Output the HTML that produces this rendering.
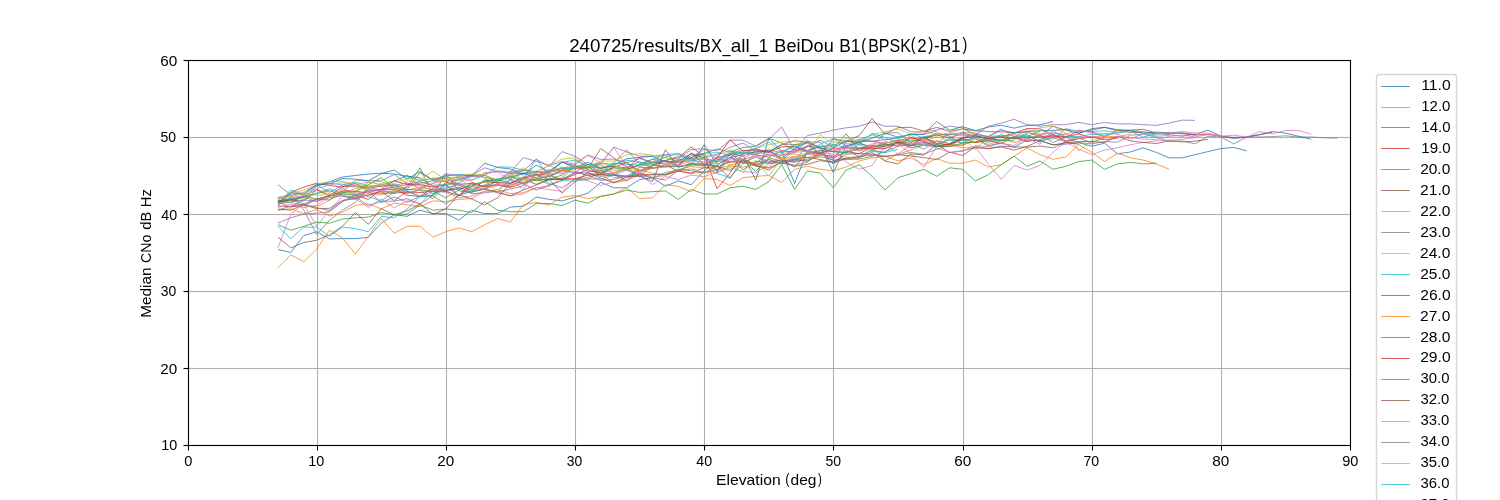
<!DOCTYPE html>
<html lang="en">
<head>
<meta charset="utf-8">
<title>240725/results/BX_all_1 BeiDou B1(BPSK(2)-B1)</title>
<style>
html,body{margin:0;padding:0;background:#fff;}
body{width:1500px;height:500px;overflow:hidden;}
svg{display:block;will-change:transform;}
text{font-family:"Liberation Sans",sans-serif;fill:#000;text-anchor:middle;}
.g line{stroke:#b0b0b0;stroke-width:1.111;}
.s line{stroke:#000;stroke-width:1.111;}
.d polyline{fill:none;stroke-width:0.78;stroke-linejoin:round;stroke-linecap:butt;}
.h line{stroke-width:0.78;}
</style>
</head>
<body>
<svg width="1500" height="500" viewBox="0 0 1500 500">
<rect x="0" y="0" width="1500" height="500" fill="#ffffff"/>
<g class="g">
<line x1="317.5" y1="60.5" x2="317.5" y2="445.5"/>
<line x1="446.5" y1="60.5" x2="446.5" y2="445.5"/>
<line x1="575.5" y1="60.5" x2="575.5" y2="445.5"/>
<line x1="704.5" y1="60.5" x2="704.5" y2="445.5"/>
<line x1="833.5" y1="60.5" x2="833.5" y2="445.5"/>
<line x1="963.5" y1="60.5" x2="963.5" y2="445.5"/>
<line x1="1092.5" y1="60.5" x2="1092.5" y2="445.5"/>
<line x1="1221.5" y1="60.5" x2="1221.5" y2="445.5"/>
<line x1="188.5" y1="137.5" x2="1350.5" y2="137.5"/>
<line x1="188.5" y1="214.5" x2="1350.5" y2="214.5"/>
<line x1="188.5" y1="291.5" x2="1350.5" y2="291.5"/>
<line x1="188.5" y1="368.5" x2="1350.5" y2="368.5"/>
</g>
<g fill="#b0b0b0" fill-opacity="0.063">
<rect x="188" y="136" width="1162" height="1"/><rect x="188" y="138" width="1162" height="1"/>
<rect x="188" y="213" width="1162" height="1"/><rect x="188" y="215" width="1162" height="1"/>
<rect x="188" y="290" width="1162" height="1"/><rect x="188" y="292" width="1162" height="1"/>
<rect x="188" y="367" width="1162" height="1"/><rect x="188" y="369" width="1162" height="1"/>
</g>
<g class="d">
<polyline stroke="#1f77b4" points="277.9,249.4 290.8,252.5 303.8,235.6 316.7,231.7 329.6,238.9 342.5,238.6 355.4,238.6 368.3,237.4 381.2,223.2 394.2,214.8 407.1,216.3 420.0,210.2 432.9,213.6 445.8,213.6 458.8,220.2 471.7,210.2 484.6,213.6 497.5,213.6 510.4,207.1 523.3,206.3 536.2,197.1 549.2,199.4 562.1,200.9 575.0,197.1 587.9,193.2 600.8,182.4 613.8,187.8 626.7,187.8 639.6,179.4 652.5,177.8 665.4,186.3 678.3,180.9 691.2,184.7 704.2,170.9 717.1,157.2 730.0,155.2 742.9,169.9 755.8,161.4 768.8,162.4 781.7,159.9 794.6,166.9 807.5,153.4 820.4,153.1 833.3,160.7 846.2,158.2 859.2,156.4 872.1,150.4 885.0,152.6 897.9,141.0 910.8,145.3 923.8,142.3 936.7,144.9 949.6,138.8 962.5,140.2 975.4,138.6 988.3,145.9 1001.2,142.7 1014.2,147.3 1027.1,139.8 1040.0,140.7 1052.9,144.6 1065.8,144.1 1078.8,142.7 1091.7,146.2 1104.6,143.2 1117.5,153.9 1130.4,152.0 1143.3,147.8 1156.2,152.4 1169.2,157.8 1182.1,157.8 1195.0,154.7 1207.9,151.6 1220.8,148.6 1233.8,147.4 1246.7,150.9"/>
<polyline stroke="#ff7f0e" points="277.9,267.9 290.8,254.8 303.8,261.7 316.7,249.0 329.6,230.2 342.5,237.9 355.4,254.0 368.3,236.3 381.2,218.6 394.2,233.2 407.1,226.3 420.0,226.3 432.9,237.1 445.8,231.7 458.8,227.9 471.7,231.7 484.6,224.8 497.5,218.6 510.4,222.0 523.3,204.8 536.2,202.4 549.2,204.8 562.1,197.1 575.0,195.5 587.9,198.6 600.8,196.3 613.8,194.0 626.7,187.8 639.6,198.6 652.5,197.8 665.4,184.7 678.3,186.3 691.2,191.7 704.2,178.6 717.1,179.4 730.0,185.5 742.9,177.8 755.8,176.3 768.8,175.5 781.7,182.4 794.6,169.3 807.5,166.3 820.4,169.3 833.3,170.9 846.2,167.0 859.2,160.9 872.1,157.8 885.0,156.2 897.9,160.9 910.8,157.8 923.8,164.7 936.7,158.6 949.6,163.2 962.5,163.2 975.4,160.1 988.3,167.0 1001.2,164.7 1014.2,156.2 1027.1,147.8 1040.0,154.7 1052.9,159.3 1065.8,157.0 1078.8,144.7 1091.7,152.4 1104.6,161.6 1117.5,153.2 1130.4,157.8 1143.3,160.1 1156.2,163.9 1169.2,169.3"/>
<polyline stroke="#2ca02c" points="277.9,199.7 290.8,202.5 303.8,196.4 316.7,193.6 329.6,190.5 342.5,195.8 355.4,197.3 368.3,189.5 381.2,191.0 394.2,192.6 407.1,187.1 420.0,167.8 432.9,194.8 445.8,174.0 458.8,190.9 471.7,192.4 484.6,179.4 497.5,182.5 510.4,175.6 523.3,183.3 536.2,179.8 549.2,179.2 562.1,178.2 575.0,165.9 587.9,171.8 600.8,170.9 613.8,167.9 626.7,169.7 639.6,164.7 652.5,162.4 665.4,164.0 678.3,159.9 691.2,157.9 704.2,153.4 717.1,148.9 730.0,152.2 742.9,147.5 755.8,146.1 768.8,138.1 781.7,143.0 794.6,150.7 807.5,146.9 820.4,140.1 833.3,147.5 846.2,133.8 859.2,150.5 872.1,145.6 885.0,146.3 897.9,141.2 910.8,140.9 923.8,140.3 936.7,132.9 949.6,136.2 962.5,144.3 975.4,135.7 988.3,139.2 1001.2,140.3 1014.2,136.7 1027.1,136.8 1040.0,131.1"/>
<polyline stroke="#d62728" points="277.9,205.9 290.8,192.4 303.8,187.1 316.7,183.2 329.6,185.5 342.5,187.1 355.4,183.2 368.3,192.0 381.2,189.3 394.2,189.3 407.1,195.2 420.0,196.5 432.9,195.7 445.8,182.2 458.8,185.2 471.7,190.5 484.6,185.2 497.5,185.0 510.4,187.6 523.3,182.9 536.2,179.0 549.2,175.9 562.1,169.9 575.0,168.5 587.9,167.3 600.8,167.3 613.8,166.5 626.7,167.9 639.6,157.7 652.5,163.3 665.4,160.4 678.3,157.8 691.2,147.0 704.2,156.2 717.1,188.6 730.0,173.2 742.9,153.3 755.8,154.7 768.8,157.3 781.7,150.7 794.6,152.2 807.5,145.8 820.4,148.3 833.3,151.4 846.2,146.0 859.2,141.6 872.1,141.1 885.0,143.5 897.9,140.1 910.8,138.9 923.8,138.4 936.7,135.1 949.6,137.8 962.5,133.4 975.4,135.9 988.3,138.7 1001.2,136.8 1014.2,133.2 1027.1,128.5 1040.0,128.8 1052.9,134.9 1065.8,136.8 1078.8,131.0 1091.7,131.9 1104.6,136.8 1117.5,130.3 1130.4,132.5 1143.3,131.7 1156.2,134.0 1169.2,133.1 1182.1,133.6 1195.0,135.2 1207.9,134.3 1220.8,136.2 1233.8,137.4 1246.7,137.0 1259.6,134.7 1272.5,132.0"/>
<polyline stroke="#9467bd" points="277.9,223.2 290.8,217.8 303.8,214.0 316.7,213.2 329.6,211.7 342.5,201.7 355.4,194.8 368.3,190.9 381.2,189.4 394.2,187.1 407.1,184.7 420.0,183.2 432.9,180.9 445.8,181.7 458.8,178.6 471.7,175.5 484.6,167.8 497.5,171.6 510.4,173.2 523.3,170.9 536.2,159.3 549.2,166.3 562.1,151.6 575.0,156.2 587.9,164.7 600.8,163.9 613.8,147.0 626.7,152.0 639.6,156.2 652.5,156.2 665.4,154.7 678.3,153.6 691.2,157.8 704.2,149.3 717.1,150.9 730.0,140.1 742.9,140.1 755.8,146.2 768.8,139.3 781.7,127.0 794.6,150.1 807.5,135.5 820.4,133.1 833.3,130.1 846.2,127.8 859.2,126.2 872.1,122.0 885.0,126.2 897.9,126.2 910.8,131.6 923.8,132.0 936.7,130.1 949.6,126.2 962.5,127.8 975.4,134.7 988.3,126.2 1001.2,123.1 1014.2,119.3 1027.1,124.7 1040.0,126.2 1052.9,124.7 1065.8,124.7 1078.8,122.4 1091.7,124.7 1104.6,122.4 1117.5,123.9 1130.4,123.9 1143.3,124.7 1156.2,125.4 1169.2,123.1 1182.1,120.1 1195.0,120.4"/>
<polyline stroke="#8c564b" points="277.9,200.6 290.8,200.2 303.8,195.7 316.7,199.2 329.6,195.5 342.5,186.6 355.4,186.8 368.3,187.8 381.2,186.4 394.2,184.5 407.1,189.5 420.0,172.5 432.9,179.9 445.8,178.3 458.8,184.3 471.7,183.4 484.6,186.6 497.5,181.3 510.4,173.3 523.3,173.1 536.2,178.2 549.2,176.7 562.1,170.8 575.0,172.5 587.9,164.1 600.8,172.9 613.8,174.1 626.7,180.9 639.6,167.0 652.5,168.5 665.4,164.4 678.3,171.5 691.2,164.2 704.2,163.6 717.1,160.1 730.0,153.4 742.9,150.4 755.8,150.3 768.8,151.3 781.7,145.0 794.6,140.6 807.5,142.4 820.4,154.4 833.3,138.6 846.2,141.5 859.2,135.5 872.1,118.5 885.0,134.4 897.9,127.6 910.8,127.3 923.8,131.1 936.7,127.4 949.6,131.4 962.5,128.9 975.4,130.7 988.3,131.6 1001.2,131.9 1014.2,132.6 1027.1,132.1 1040.0,136.1 1052.9,126.2 1065.8,130.2 1078.8,133.0 1091.7,130.1 1104.6,127.4 1117.5,130.8 1130.4,130.1 1143.3,129.3 1156.2,133.1 1169.2,134.7 1182.1,136.2 1195.0,133.9"/>
<polyline stroke="#e377c2" points="277.9,247.9 290.8,214.0 303.8,204.0 316.7,226.3 329.6,210.2 342.5,196.3 355.4,198.6 368.3,207.5 381.2,199.0 394.2,207.9 407.1,200.7 420.0,203.7 432.9,191.3 445.8,192.2 458.8,197.8 471.7,196.0 484.6,191.0 497.5,191.6 510.4,195.8 523.3,194.0 536.2,187.3 549.2,189.6 562.1,191.4 575.0,178.3 587.9,180.8 600.8,185.5 613.8,181.9 626.7,180.7 639.6,174.9 652.5,184.5 665.4,176.6 678.3,179.6 691.2,175.1 704.2,176.8 717.1,172.6 730.0,167.7 742.9,171.4 755.8,172.9 768.8,163.9 781.7,161.8 794.6,157.4 807.5,154.4 820.4,155.6 833.3,147.9 846.2,162.0 859.2,169.3 872.1,165.5 885.0,146.2 897.9,143.2 910.8,153.9 923.8,167.4 936.7,146.2 949.6,144.7 962.5,147.8 975.4,147.0 988.3,163.9 1001.2,179.4 1014.2,165.5 1027.1,170.1 1040.0,165.5 1052.9,152.4 1065.8,142.0 1078.8,149.3 1091.7,154.7 1104.6,150.1 1117.5,147.8 1130.4,144.7 1143.3,142.4 1156.2,140.9 1169.2,140.1 1182.1,139.3 1195.0,137.8"/>
<polyline stroke="#7f7f7f" points="277.9,184.7 290.8,194.8 303.8,210.2 316.7,234.4 329.6,220.2 342.5,210.2 355.4,202.4 368.3,188.0 381.2,185.0 394.2,185.7 407.1,193.0 420.0,190.2 432.9,198.8 445.8,185.1 458.8,182.9 471.7,175.0 484.6,177.2 497.5,180.5 510.4,176.6 523.3,173.0 536.2,172.0 549.2,173.4 562.1,162.0 575.0,166.2 587.9,167.2 600.8,164.8 613.8,173.4 626.7,168.4 639.6,161.6 652.5,168.3 665.4,166.6 678.3,158.9 691.2,149.6 704.2,148.7 717.1,159.2 730.0,161.3 742.9,160.6 755.8,163.1 768.8,154.1 781.7,159.6 794.6,162.3 807.5,159.0 820.4,156.7 833.3,159.9 846.2,159.7 859.2,159.0 872.1,156.4 885.0,151.5 897.9,146.5 910.8,144.0 923.8,149.1 936.7,140.8 949.6,143.6 962.5,137.5 975.4,137.3 988.3,142.0 1001.2,139.7 1014.2,138.2 1027.1,141.4 1040.0,134.9 1052.9,142.5 1065.8,137.1 1078.8,142.6 1091.7,143.9 1104.6,141.5 1117.5,142.3 1130.4,135.2 1143.3,134.2 1156.2,137.3 1169.2,141.6 1182.1,140.9 1195.0,143.9 1207.9,136.2 1220.8,137.0 1233.8,143.9 1246.7,137.0 1259.6,137.0 1272.5,136.6 1285.4,135.8 1298.3,137.0 1311.2,137.0 1324.2,137.8 1337.1,138.2"/>
<polyline stroke="#bcbd22" points="277.9,201.7 290.8,200.0 303.8,197.7 316.7,189.4 329.6,193.9 342.5,193.1 355.4,188.6 368.3,188.5 381.2,183.3 394.2,181.5 407.1,175.0 420.0,186.7 432.9,179.5 445.8,181.7 458.8,176.4 471.7,174.6 484.6,177.8 497.5,180.1 510.4,178.5 523.3,178.0 536.2,171.2 549.2,165.5 562.1,171.2 575.0,159.6 587.9,166.8 600.8,168.5 613.8,164.1 626.7,162.3 639.6,173.2 652.5,161.3 665.4,157.3 678.3,163.2 691.2,159.4 704.2,158.6 717.1,161.3 730.0,162.2 742.9,160.4 755.8,154.4 768.8,149.2 781.7,153.3 794.6,145.3 807.5,140.2 820.4,150.8 833.3,141.6 846.2,143.7 859.2,142.2 872.1,149.9 885.0,141.5 897.9,144.2 910.8,135.5 923.8,141.5 936.7,136.6 949.6,140.7 962.5,138.2 975.4,149.4 988.3,136.6 1001.2,135.2 1014.2,138.1 1027.1,133.0 1040.0,127.8 1052.9,126.2 1065.8,133.1 1078.8,150.9 1091.7,140.9 1104.6,137.0 1117.5,130.1 1130.4,130.1 1143.3,131.6"/>
<polyline stroke="#17becf" points="277.9,204.9 290.8,189.9 303.8,194.5 316.7,184.7 329.6,183.1 342.5,185.0 355.4,182.3 368.3,185.8 381.2,185.2 394.2,181.1 407.1,175.5 420.0,180.7 432.9,178.2 445.8,177.3 458.8,177.5 471.7,179.8 484.6,175.2 497.5,166.8 510.4,167.2 523.3,170.0 536.2,173.0 549.2,170.9 562.1,162.5 575.0,159.9 587.9,166.9 600.8,172.7 613.8,163.3 626.7,164.3 639.6,165.0 652.5,159.0 665.4,154.9 678.3,162.0 691.2,160.2 704.2,153.3 717.1,152.6 730.0,155.3 742.9,153.4 755.8,153.8 768.8,152.1 781.7,152.0 794.6,144.5 807.5,152.8 820.4,144.1 833.3,138.6 846.2,145.8 859.2,144.5 872.1,133.2 885.0,137.6 897.9,143.2 910.8,142.1 923.8,136.6 936.7,135.1 949.6,134.7 962.5,135.2 975.4,135.7 988.3,139.6 1001.2,140.6 1014.2,137.4 1027.1,136.8 1040.0,137.0 1052.9,139.2 1065.8,128.7 1078.8,131.1 1091.7,131.6 1104.6,130.8 1117.5,132.4 1130.4,130.1 1143.3,133.1 1156.2,136.2 1169.2,135.5"/>
<polyline stroke="#1f77b4" points="277.9,201.2 290.8,198.3 303.8,197.6 316.7,186.3 329.6,181.7 342.5,177.0 355.4,175.5 368.3,174.0 381.2,173.2 394.2,174.0 407.1,176.3 420.0,177.8 432.9,186.2 445.8,190.3 458.8,188.8 471.7,185.8 484.6,181.0 497.5,178.9 510.4,177.8 523.3,173.6 536.2,174.2 549.2,179.8 562.1,179.1 575.0,172.9 587.9,173.0 600.8,176.3 613.8,174.5 626.7,176.1 639.6,170.4 652.5,166.0 665.4,160.8 678.3,166.8 691.2,164.8 704.2,144.7 717.1,164.6 730.0,157.5 742.9,154.6 755.8,180.1 768.8,138.4 781.7,150.9 794.6,183.6 807.5,150.3 820.4,146.3 833.3,172.4 846.2,146.3 859.2,142.5 872.1,149.5 885.0,145.8 897.9,142.4 910.8,145.5 923.8,144.1 936.7,146.1 949.6,143.7 962.5,137.7 975.4,134.4 988.3,136.7 1001.2,130.0 1014.2,133.0 1027.1,131.6 1040.0,130.8 1052.9,130.5 1065.8,129.3 1078.8,133.3 1091.7,128.7 1104.6,127.2 1117.5,129.7 1130.4,130.7 1143.3,133.3 1156.2,132.0 1169.2,132.9 1182.1,132.7 1195.0,134.7 1207.9,130.1 1220.8,136.2 1233.8,138.5 1246.7,137.0 1259.6,134.7 1272.5,131.6 1285.4,133.1 1298.3,136.2 1311.2,139.3"/>
<polyline stroke="#ff7f0e" points="277.9,210.2 290.8,208.8 303.8,213.6 316.7,209.7 329.6,216.0 342.5,212.1 355.4,205.5 368.3,203.6 381.2,208.9 394.2,203.0 407.1,204.8 420.0,206.5 432.9,200.9 445.8,201.5 458.8,199.4 471.7,198.5 484.6,191.4 497.5,189.6 510.4,193.6 523.3,192.7 536.2,187.9 549.2,186.3 562.1,177.5 575.0,179.5 587.9,177.3 600.8,173.9 613.8,182.9 626.7,179.6 639.6,173.0 652.5,177.2 665.4,175.6 678.3,170.9 691.2,173.6 704.2,171.6 717.1,172.5 730.0,166.1 742.9,167.1 755.8,164.5 768.8,167.5 781.7,155.2 794.6,153.8 807.5,158.0 820.4,152.4 833.3,164.0 846.2,156.7 859.2,159.2 872.1,146.1 885.0,160.8 897.9,154.1 910.8,150.2 923.8,143.7 936.7,141.1 949.6,143.8 962.5,145.9 975.4,138.6 988.3,144.4 1001.2,140.8"/>
<polyline stroke="#2ca02c" points="277.9,224.8 290.8,230.2 303.8,226.3 316.7,222.0 329.6,223.2 342.5,219.0 355.4,217.8 368.3,217.1 381.2,212.5 394.2,214.8 407.1,214.0 420.0,204.8 432.9,210.2 445.8,209.0 458.8,210.2 471.7,212.5 484.6,201.7 497.5,210.2 510.4,211.7 523.3,211.7 536.2,203.6 549.2,203.6 562.1,205.5 575.0,200.1 587.9,203.2 600.8,196.3 613.8,194.0 626.7,190.1 639.6,192.4 652.5,191.7 665.4,190.9 678.3,199.4 691.2,189.4 704.2,194.0 717.1,194.0 730.0,187.8 742.9,186.3 755.8,189.4 768.8,181.7 781.7,164.7 794.6,189.4 807.5,170.9 820.4,173.2 833.3,187.8 846.2,170.1 859.2,164.7 872.1,176.3 885.0,190.1 897.9,177.8 910.8,173.6 923.8,169.3 936.7,176.3 949.6,167.8 962.5,169.3 975.4,180.9 988.3,174.7 1001.2,164.7 1014.2,156.2 1027.1,166.3 1040.0,160.9 1052.9,169.3 1065.8,166.3 1078.8,161.6 1091.7,160.1 1104.6,169.3 1117.5,163.9 1130.4,162.4 1143.3,163.9 1156.2,163.2"/>
<polyline stroke="#d62728" points="277.9,205.8 290.8,206.9 303.8,205.5 316.7,199.3 329.6,196.2 342.5,194.0 355.4,195.3 368.3,199.4 381.2,189.3 394.2,180.6 407.1,184.6 420.0,184.6 432.9,187.1 445.8,185.0 458.8,196.1 471.7,182.2 484.6,187.1 497.5,184.8 510.4,186.4 523.3,179.2 536.2,184.4 549.2,179.3 562.1,179.5 575.0,178.8 587.9,175.1 600.8,174.4 613.8,175.4 626.7,177.0 639.6,174.3 652.5,174.8 665.4,174.7 678.3,170.9 691.2,173.2 704.2,167.5 717.1,166.9 730.0,161.9 742.9,162.1 755.8,165.5 768.8,159.4 781.7,164.0 794.6,159.8 807.5,161.1 820.4,153.8 833.3,158.4 846.2,151.3 859.2,153.8 872.1,146.5 885.0,144.3 897.9,146.0 910.8,137.4 923.8,141.6 936.7,146.8 949.6,144.3 962.5,138.9 975.4,142.7 988.3,140.4 1001.2,143.5 1014.2,136.8 1027.1,141.4 1040.0,139.8 1052.9,134.5 1065.8,141.2 1078.8,138.6 1091.7,136.9 1104.6,139.8 1117.5,138.1"/>
<polyline stroke="#9467bd" points="277.9,197.4 290.8,195.4 303.8,192.6 316.7,184.6 329.6,192.4 342.5,185.0 355.4,185.6 368.3,187.4 381.2,190.2 394.2,185.3 407.1,182.8 420.0,188.4 432.9,183.4 445.8,173.6 458.8,175.8 471.7,176.2 484.6,174.0 497.5,170.9 510.4,172.3 523.3,157.6 536.2,161.3 549.2,165.4 562.1,161.7 575.0,164.5 587.9,155.1 600.8,159.5 613.8,159.1 626.7,162.4 639.6,158.6 652.5,162.1 665.4,161.7 678.3,162.7 691.2,158.5 704.2,157.6 717.1,154.3 730.0,147.4 742.9,143.0 755.8,151.0 768.8,150.6 781.7,159.7 794.6,151.1 807.5,141.8 820.4,142.4 833.3,158.9 846.2,141.8 859.2,139.6 872.1,141.1 885.0,139.8 897.9,137.8 910.8,134.4 923.8,134.5 936.7,130.9"/>
<polyline stroke="#8c564b" points="277.9,237.1 290.8,247.9 303.8,242.5 316.7,240.2 329.6,234.8 342.5,226.3 355.4,212.5 368.3,224.4 381.2,208.6 394.2,214.8 407.1,210.9 420.0,204.0 432.9,214.4 445.8,209.0 458.8,194.8 471.7,199.0 484.6,204.8 497.5,197.8 510.4,183.3 523.3,178.3 536.2,175.4 549.2,171.4 562.1,168.5 575.0,167.3 587.9,168.6 600.8,148.5 613.8,157.8 626.7,167.4 639.6,176.9 652.5,164.9 665.4,160.7 678.3,165.9 691.2,155.3 704.2,153.9 717.1,171.6 730.0,158.8 742.9,159.1 755.8,165.3 768.8,170.2 781.7,161.1 794.6,159.4 807.5,157.3 820.4,159.6 833.3,162.3 846.2,154.1 859.2,153.5 872.1,154.3 885.0,156.7 897.9,154.6 910.8,156.0 923.8,157.6 936.7,159.6 949.6,152.1 962.5,155.5 975.4,146.7 988.3,148.7 1001.2,146.2 1014.2,147.0 1027.1,147.1 1040.0,146.0 1052.9,147.9 1065.8,142.0 1078.8,144.3"/>
<polyline stroke="#e377c2" points="277.9,198.2 290.8,197.4 303.8,195.7 316.7,188.7 329.6,184.9 342.5,182.7 355.4,184.5 368.3,182.2 381.2,184.6 394.2,189.5 407.1,193.6 420.0,189.6 432.9,183.3 445.8,180.7 458.8,180.1 471.7,180.5 484.6,172.6 497.5,172.2 510.4,179.7 523.3,189.7 536.2,171.3 549.2,173.6 562.1,172.9 575.0,162.7 587.9,155.4 600.8,162.9 613.8,147.7 626.7,166.4 639.6,166.8 652.5,162.2 665.4,161.1 678.3,165.0 691.2,160.9 704.2,162.0 717.1,156.9 730.0,162.0 742.9,159.3 755.8,150.5 768.8,155.2 781.7,154.1 794.6,150.6 807.5,150.5 820.4,152.5 833.3,153.9 846.2,144.6 859.2,148.9 872.1,143.9 885.0,143.7 897.9,153.8 910.8,145.2 923.8,140.5 936.7,143.7 949.6,133.6 962.5,134.9 975.4,135.8 988.3,136.2 1001.2,128.8 1014.2,137.0 1027.1,129.6 1040.0,134.4 1052.9,136.2 1065.8,134.1 1078.8,129.9 1091.7,133.3 1104.6,133.4 1117.5,134.2 1130.4,139.2 1143.3,133.2 1156.2,133.9 1169.2,132.7 1182.1,131.7 1195.0,132.9 1207.9,133.2 1220.8,136.2 1233.8,135.1 1246.7,137.0 1259.6,131.6 1272.5,133.9 1285.4,130.5 1298.3,130.5 1311.2,133.9"/>
<polyline stroke="#7f7f7f" points="277.9,197.4 290.8,201.1 303.8,196.5 316.7,201.6 329.6,195.2 342.5,192.1 355.4,179.9 368.3,180.8 381.2,180.7 394.2,174.5 407.1,183.9 420.0,182.0 432.9,185.3 445.8,184.4 458.8,179.7 471.7,176.7 484.6,175.4 497.5,180.3 510.4,171.4 523.3,170.1 536.2,171.5 549.2,172.6 562.1,167.1 575.0,169.1 587.9,164.4 600.8,168.9 613.8,162.9 626.7,149.8 639.6,163.9 652.5,159.3 665.4,161.2 678.3,155.9 691.2,158.6 704.2,165.1 717.1,162.3 730.0,153.4 742.9,156.4 755.8,151.0 768.8,152.1 781.7,144.1 794.6,144.7 807.5,143.5 820.4,146.7 833.3,145.6 846.2,140.9 859.2,144.0 872.1,146.1 885.0,133.1 897.9,132.7 910.8,142.6 923.8,137.4 936.7,134.5 949.6,134.5 962.5,132.5 975.4,133.0 988.3,137.2 1001.2,136.2 1014.2,134.9 1027.1,135.3 1040.0,141.8 1052.9,137.4 1065.8,142.0 1078.8,138.2 1091.7,142.8 1104.6,137.9"/>
<polyline stroke="#bcbd22" points="277.9,198.3 290.8,193.5 303.8,190.3 316.7,184.0 329.6,181.5 342.5,181.6 355.4,183.8 368.3,186.8 381.2,185.2 394.2,183.6 407.1,178.2 420.0,179.7 432.9,171.2 445.8,179.8 458.8,176.1 471.7,174.0 484.6,174.6 497.5,181.0 510.4,175.6 523.3,167.8 536.2,174.1 549.2,164.6 562.1,159.2 575.0,157.7 587.9,167.1 600.8,161.0 613.8,161.0 626.7,154.9 639.6,153.6 652.5,155.2 665.4,157.7 678.3,160.9 691.2,159.9 704.2,155.0 717.1,155.5 730.0,150.0 742.9,155.1 755.8,148.5 768.8,144.7 781.7,142.2 794.6,140.9 807.5,152.5 820.4,134.3 833.3,145.7 846.2,138.4 859.2,141.2 872.1,134.6 885.0,131.7 897.9,128.7 910.8,134.1 923.8,131.2 936.7,134.9 949.6,133.0 962.5,129.0 975.4,134.5"/>
<polyline stroke="#17becf" points="277.9,226.3 290.8,238.6 303.8,227.1 316.7,227.1 329.6,236.3 342.5,227.1 355.4,228.6 368.3,231.7 381.2,216.3 394.2,217.8 407.1,209.0 420.0,196.3 432.9,195.5 445.8,184.1 458.8,195.2 471.7,190.6 484.6,189.3 497.5,183.5 510.4,180.5 523.3,184.3 536.2,178.3 549.2,184.8 562.1,180.7 575.0,181.1 587.9,179.4 600.8,170.5 613.8,177.6 626.7,176.6 639.6,172.8 652.5,178.9 665.4,172.4 678.3,170.3 691.2,164.9 704.2,166.1 717.1,173.4 730.0,177.6 742.9,163.5 755.8,163.2 768.8,163.7 781.7,162.6 794.6,158.2 807.5,161.1 820.4,150.9 833.3,151.7 846.2,152.7 859.2,144.4 872.1,151.4 885.0,152.6 897.9,149.3"/>
<polyline stroke="#1f77b4" points="277.9,202.4 290.8,192.9 303.8,194.3 316.7,185.0 329.6,183.8 342.5,178.5 355.4,179.2 368.3,180.9 381.2,173.7 394.2,170.0 407.1,179.1 420.0,171.5 432.9,180.2 445.8,175.9 458.8,174.5 471.7,175.7 484.6,163.3 497.5,167.5 510.4,168.9 523.3,174.9 536.2,165.2 549.2,171.5 562.1,162.0 575.0,167.9 587.9,162.3 600.8,168.5 613.8,165.6 626.7,158.7 639.6,157.4 652.5,156.3 665.4,161.8 678.3,161.2 691.2,153.6 704.2,157.9 717.1,171.1 730.0,154.2 742.9,152.2 755.8,152.4 768.8,150.7 781.7,158.1 794.6,148.5 807.5,141.3 820.4,148.3 833.3,148.0 846.2,141.0 859.2,142.2 872.1,138.2 885.0,133.2 897.9,137.0 910.8,134.5 923.8,134.1 936.7,121.5 949.6,130.3 962.5,126.6 975.4,130.7 988.3,127.0 1001.2,125.3 1014.2,128.1 1027.1,125.4 1040.0,124.8 1052.9,121.6"/>
<polyline stroke="#ff7f0e" points="277.9,202.7 290.8,202.5 303.8,205.3 316.7,206.9 329.6,200.0 342.5,189.7 355.4,194.2 368.3,195.0 381.2,194.8 394.2,190.4 407.1,189.8 420.0,187.7 432.9,189.4 445.8,191.1 458.8,183.6 471.7,189.7 484.6,188.1 497.5,185.6 510.4,185.2 523.3,181.4 536.2,177.5 549.2,171.5 562.1,170.3 575.0,171.2 587.9,175.6 600.8,170.8 613.8,172.5 626.7,167.1 639.6,169.9 652.5,173.4 665.4,174.1 678.3,169.7 691.2,166.4 704.2,168.1 717.1,169.2 730.0,165.2 742.9,161.7 755.8,163.4 768.8,151.6 781.7,159.4 794.6,156.0 807.5,160.3 820.4,155.3 833.3,155.6 846.2,153.0 859.2,148.6 872.1,145.7 885.0,148.4 897.9,140.2 910.8,143.9 923.8,139.2 936.7,141.5 949.6,146.6 962.5,144.6 975.4,141.4 988.3,138.8 1001.2,136.9 1014.2,142.5 1027.1,139.0 1040.0,134.0 1052.9,133.1 1065.8,134.4 1078.8,138.5 1091.7,136.9 1104.6,135.8 1117.5,137.1 1130.4,134.0"/>
<polyline stroke="#2ca02c" points="277.9,202.3 290.8,199.1 303.8,204.1 316.7,198.9 329.6,200.0 342.5,192.7 355.4,191.4 368.3,184.7 381.2,177.7 394.2,188.3 407.1,189.5 420.0,189.9 432.9,191.1 445.8,197.8 458.8,189.9 471.7,184.7 484.6,181.9 497.5,179.6 510.4,183.2 523.3,177.8 536.2,180.6 549.2,179.1 562.1,175.1 575.0,165.7 587.9,166.6 600.8,175.3 613.8,165.9 626.7,169.3 639.6,165.0 652.5,164.8 665.4,166.9 678.3,166.6 691.2,164.1 704.2,165.5 717.1,166.3 730.0,170.5 742.9,160.3 755.8,171.3 768.8,157.9 781.7,161.3 794.6,161.8 807.5,153.0 820.4,150.6 833.3,151.4 846.2,152.5 859.2,148.4 872.1,147.6 885.0,144.8 897.9,143.2 910.8,147.7 923.8,145.4 936.7,146.5 949.6,146.5 962.5,143.1 975.4,142.1 988.3,138.1 1001.2,140.6 1014.2,140.9"/>
<polyline stroke="#d62728" points="277.9,202.5 290.8,199.7 303.8,201.0 316.7,189.6 329.6,196.0 342.5,191.1 355.4,191.2 368.3,193.1 381.2,193.1 394.2,193.2 407.1,191.9 420.0,192.7 432.9,190.7 445.8,191.5 458.8,195.4 471.7,186.7 484.6,181.7 497.5,182.8 510.4,183.4 523.3,177.3 536.2,174.7 549.2,175.0 562.1,180.0 575.0,174.5 587.9,169.5 600.8,173.6 613.8,167.4 626.7,162.5 639.6,171.1 652.5,167.7 665.4,166.1 678.3,165.5 691.2,152.8 704.2,164.3 717.1,158.0 730.0,139.8 742.9,151.2 755.8,149.0 768.8,152.3 781.7,146.8 794.6,146.6 807.5,151.5 820.4,153.4 833.3,148.5 846.2,147.9 859.2,148.0 872.1,148.3 885.0,148.8 897.9,142.3 910.8,146.2 923.8,136.9 936.7,143.6 949.6,144.7 962.5,138.5 975.4,135.9 988.3,138.4 1001.2,137.3 1014.2,138.2 1027.1,137.8 1040.0,136.9 1052.9,136.1 1065.8,137.0 1078.8,133.9 1091.7,138.0"/>
<polyline stroke="#9467bd" points="277.9,202.0 290.8,207.1 303.8,199.9 316.7,201.1 329.6,197.7 342.5,195.8 355.4,199.2 368.3,190.9 381.2,202.7 394.2,197.0 407.1,202.3 420.0,196.4 432.9,191.4 445.8,191.7 458.8,188.6 471.7,193.8 484.6,192.8 497.5,191.3 510.4,179.2 523.3,184.1 536.2,190.0 549.2,185.1 562.1,180.3 575.0,172.2 587.9,175.2 600.8,180.3 613.8,179.6 626.7,175.8 639.6,176.1 652.5,177.5 665.4,180.1 678.3,170.5 691.2,169.0 704.2,172.7 717.1,169.4 730.0,157.1 742.9,163.4 755.8,155.6 768.8,161.2 781.7,161.1 794.6,160.8 807.5,145.5 820.4,153.3 833.3,156.9 846.2,146.9 859.2,150.0"/>
<polyline stroke="#8c564b" points="277.9,209.1 290.8,210.1 303.8,204.8 316.7,208.7 329.6,208.3 342.5,200.4 355.4,198.8 368.3,195.1 381.2,191.4 394.2,200.6 407.1,191.5 420.0,196.2 432.9,188.6 445.8,190.4 458.8,187.1 471.7,192.3 484.6,188.8 497.5,192.8 510.4,195.8 523.3,190.0 536.2,185.0 549.2,179.6 562.1,193.1 575.0,181.6 587.9,172.6 600.8,178.2 613.8,182.8 626.7,177.1 639.6,176.0 652.5,181.5 665.4,149.7 678.3,167.2 691.2,163.3 704.2,164.2 717.1,165.8 730.0,178.4 742.9,159.0 755.8,166.1 768.8,168.1 781.7,162.5 794.6,166.3 807.5,164.3 820.4,160.6 833.3,162.5 846.2,158.7 859.2,157.5 872.1,152.5 885.0,161.0 897.9,164.0 910.8,153.9 923.8,155.1 936.7,144.3 949.6,152.6 962.5,150.7 975.4,147.8 988.3,148.4 1001.2,147.0 1014.2,150.1 1027.1,146.5 1040.0,140.6 1052.9,145.0 1065.8,142.8 1078.8,141.7 1091.7,141.4 1104.6,142.6 1117.5,136.0 1130.4,140.9 1143.3,142.4 1156.2,143.6 1169.2,140.7 1182.1,141.9 1195.0,141.2 1207.9,139.4"/>
<polyline stroke="#e377c2" points="277.9,207.6 290.8,204.2 303.8,207.6 316.7,205.3 329.6,196.3 342.5,188.3 355.4,193.0 368.3,191.7 381.2,190.4 394.2,191.4 407.1,186.2 420.0,184.9 432.9,191.2 445.8,187.9 458.8,184.0 471.7,186.1 484.6,189.2 497.5,184.1 510.4,184.8 523.3,176.9 536.2,175.6 549.2,169.4 562.1,174.1 575.0,167.6 587.9,171.0 600.8,169.2 613.8,169.9 626.7,170.1 639.6,172.8 652.5,168.4 665.4,166.8 678.3,159.8 691.2,163.0 704.2,164.0 717.1,158.6 730.0,153.6 742.9,159.6 755.8,156.0 768.8,155.1 781.7,155.3 794.6,152.3 807.5,151.3 820.4,155.7 833.3,148.2 846.2,148.5 859.2,151.0 872.1,147.7 885.0,142.0 897.9,144.3 910.8,143.9 923.8,142.5 936.7,148.0 949.6,152.3 962.5,151.4 975.4,145.5 988.3,146.7 1001.2,143.5 1014.2,145.4 1027.1,137.8 1040.0,144.3 1052.9,129.7 1065.8,140.7 1078.8,136.9 1091.7,136.5 1104.6,138.0 1117.5,136.6 1130.4,137.5 1143.3,139.2 1156.2,139.6 1169.2,136.5 1182.1,135.1 1195.0,136.9 1207.9,134.7 1220.8,135.3"/>
<polyline stroke="#7f7f7f" points="277.9,210.2 290.8,206.0 303.8,204.1 316.7,207.7 329.6,210.5 342.5,201.1 355.4,196.6 368.3,205.7 381.2,201.4 394.2,201.1 407.1,198.7 420.0,204.0 432.9,195.8 445.8,204.0 458.8,194.9 471.7,191.8 484.6,189.0 497.5,191.8 510.4,189.1 523.3,185.8 536.2,174.2 549.2,183.5 562.1,187.9 575.0,179.2 587.9,178.9 600.8,179.0 613.8,174.8 626.7,170.0 639.6,176.1 652.5,174.5 665.4,174.4 678.3,169.1 691.2,170.9 704.2,173.1 717.1,165.9 730.0,153.4 742.9,163.0 755.8,157.1 768.8,162.7 781.7,162.7 794.6,165.1 807.5,162.2 820.4,152.0 833.3,163.7 846.2,150.0 859.2,156.4 872.1,155.3 885.0,156.0 897.9,155.1 910.8,152.5 923.8,154.1 936.7,149.3 949.6,145.4 962.5,139.8"/>
<polyline stroke="#bcbd22" points="277.9,198.6 290.8,196.4 303.8,194.0 316.7,195.2 329.6,194.4 342.5,195.5 355.4,192.7 368.3,182.5 381.2,181.2 394.2,191.8 407.1,180.6 420.0,181.6 432.9,178.1 445.8,180.7 458.8,179.3 471.7,186.6 484.6,181.3 497.5,192.0 510.4,173.9 523.3,179.0 536.2,179.1 549.2,175.6 562.1,169.9 575.0,166.9 587.9,166.2 600.8,163.6 613.8,165.8 626.7,169.2 639.6,171.2 652.5,168.1 665.4,164.7 678.3,165.7 691.2,165.7 704.2,178.7 717.1,160.4 730.0,164.7 742.9,172.4 755.8,160.3 768.8,176.1 781.7,158.8 794.6,157.1 807.5,152.4 820.4,156.5"/>
<polyline stroke="#17becf" points="277.9,203.5 290.8,202.3 303.8,199.5 316.7,192.9 329.6,188.7 342.5,193.8 355.4,194.2 368.3,196.5 381.2,201.0 394.2,192.3 407.1,190.4 420.0,196.9 432.9,195.1 445.8,188.6 458.8,184.0 471.7,188.5 484.6,185.0 497.5,180.0 510.4,176.8 523.3,179.4 536.2,158.8 549.2,177.3 562.1,168.9 575.0,168.1 587.9,164.9 600.8,163.2 613.8,164.3 626.7,160.2 639.6,162.3 652.5,163.2 665.4,156.8 678.3,153.9 691.2,160.6 704.2,159.0 717.1,161.5 730.0,150.8 742.9,154.2 755.8,148.1 768.8,142.0 781.7,152.7 794.6,146.1 807.5,150.5 820.4,146.5 833.3,144.4 846.2,147.7 859.2,140.0 872.1,134.7 885.0,139.7 897.9,138.6 910.8,133.5 923.8,137.9 936.7,144.9 949.6,139.7 962.5,142.7 975.4,136.5 988.3,142.4 1001.2,134.3 1014.2,139.4 1027.1,134.0 1040.0,142.3 1052.9,132.1 1065.8,136.6 1078.8,136.5 1091.7,134.3 1104.6,134.9 1117.5,133.2 1130.4,130.9 1143.3,137.1 1156.2,133.5 1169.2,133.3 1182.1,133.6"/>
</g>
<g class="s">
<line x1="188.5" y1="59.945" x2="188.5" y2="446.055"/>
<line x1="1350.5" y1="59.945" x2="1350.5" y2="446.055"/>
<line x1="187.945" y1="60.5" x2="1351.055" y2="60.5"/>
<line x1="187.945" y1="445.5" x2="1351.055" y2="445.5"/>
<rect x="188" y="59" width="1163" height="1" fill="#000" fill-opacity="0.055"/><rect x="188" y="61" width="1163" height="1" fill="#000" fill-opacity="0.075"/>
<rect x="188" y="444" width="1163" height="1" fill="#000" fill-opacity="0.075"/><rect x="188" y="446" width="1163" height="1" fill="#000" fill-opacity="0.055"/>
<line x1="188.5" y1="445.5" x2="188.5" y2="450.5"/>
<line x1="317.5" y1="445.5" x2="317.5" y2="450.5"/>
<line x1="446.5" y1="445.5" x2="446.5" y2="450.5"/>
<line x1="575.5" y1="445.5" x2="575.5" y2="450.5"/>
<line x1="704.5" y1="445.5" x2="704.5" y2="450.5"/>
<line x1="833.5" y1="445.5" x2="833.5" y2="450.5"/>
<line x1="963.5" y1="445.5" x2="963.5" y2="450.5"/>
<line x1="1092.5" y1="445.5" x2="1092.5" y2="450.5"/>
<line x1="1221.5" y1="445.5" x2="1221.5" y2="450.5"/>
<line x1="1350.5" y1="445.5" x2="1350.5" y2="450.5"/>
<line x1="183.5" y1="60.5" x2="188.5" y2="60.5"/>
<line x1="183.5" y1="137.5" x2="188.5" y2="137.5"/>
<line x1="183.5" y1="214.5" x2="188.5" y2="214.5"/>
<line x1="183.5" y1="291.5" x2="188.5" y2="291.5"/>
<line x1="183.5" y1="368.5" x2="188.5" y2="368.5"/>
<line x1="183.5" y1="445.5" x2="188.5" y2="445.5"/>
</g>
<g>
<text transform="translate(600.45,52.00) scale(1.0430,1.0000)" font-size="18">240725</text>
<text transform="translate(665.80,52.00) scale(1.0669,1.0000)" font-size="18">/results/</text>
<text transform="translate(710.87,52.00) scale(0.9212,1.0000)" font-size="18">BX</text>
<text transform="translate(726.45,52.00) scale(0.7901,1.0000)" font-size="18">_</text>
<text transform="translate(740.18,52.00) scale(1.0536,1.0000)" font-size="18">all</text>
<text transform="translate(754.13,52.00) scale(0.8395,1.0000)" font-size="18">_</text>
<text transform="translate(763.56,52.00) scale(0.9425,1.0000)" font-size="18">1</text>
<text transform="translate(804.03,52.00) scale(1.0062,1.0000)" font-size="18">BeiDou</text>
<text transform="translate(849.90,52.00) scale(0.9648,1.0000)" font-size="18">B1</text>
<text transform="translate(863.81,51.00) scale(0.8147,1.0000)" font-size="18">(</text>
<text transform="translate(889.49,52.00) scale(0.8882,1.0000)" font-size="18">BPSK</text>
<text transform="translate(913.18,50.00) scale(0.8032,1.0000)" font-size="18">(</text>
<text transform="translate(921.93,52.00) scale(0.9368,1.0000)" font-size="18">2</text>
<text transform="translate(930.81,50.00) scale(0.8536,1.0000)" font-size="18">)</text>
<text transform="translate(947.22,52.00) scale(0.9470,1.0000)" font-size="18">-B1</text>
<text transform="translate(964.80,50.00) scale(0.8027,1.0000)" font-size="18">)</text>
<text transform="translate(748.35,485.00) scale(1.1131,1.0000)" font-size="14.1">Elevation</text>
<text transform="translate(787.31,484.00) scale(0.9026,1.0000)" font-size="14.1">(</text>
<text transform="translate(803.54,485.00) scale(1.1005,1.0000)" font-size="14.1">deg</text>
<text transform="translate(819.92,484.00) scale(0.7953,1.0000)" font-size="14.1">)</text>
<text transform="translate(151.00,198.15) rotate(-90) scale(1.0426,1.0000)" font-size="14.1">Hz</text>
<text transform="translate(151.00,220.77) rotate(-90) scale(1.0432,1.0000)" font-size="14.1">dB</text>
<text transform="translate(151.00,248.76) rotate(-90) scale(1.0085,1.0000)" font-size="14.1">CNo</text>
<text transform="translate(151.00,292.64) rotate(-90) scale(1.0915,1.0000)" font-size="14.1">Median</text>
<text transform="translate(188.35,466.00) scale(1.0387,1.0000)" font-size="14.1">0</text>
<text transform="translate(316.32,466.00) scale(1.0202,1.0000)" font-size="14.1">10</text>
<text transform="translate(445.65,466.00) scale(1.0831,1.0000)" font-size="14.1">20</text>
<text transform="translate(574.38,466.00) scale(0.9884,1.0000)" font-size="14.1">30</text>
<text transform="translate(704.21,466.00) scale(1.0126,1.0000)" font-size="14.1">40</text>
<text transform="translate(833.37,466.00) scale(0.9970,1.0000)" font-size="14.1">50</text>
<text transform="translate(962.86,466.00) scale(1.0897,1.0000)" font-size="14.1">60</text>
<text transform="translate(1091.23,466.00) scale(1.0012,1.0000)" font-size="14.1">70</text>
<text transform="translate(1220.86,466.00) scale(1.0838,1.0000)" font-size="14.1">80</text>
<text transform="translate(1350.22,466.00) scale(1.0273,1.0000)" font-size="14.1">90</text>
<text transform="translate(169.32,450.00) scale(1.0202,1.0000)" font-size="14.1">10</text>
<text transform="translate(168.65,374.00) scale(1.0831,1.0000)" font-size="14.1">20</text>
<text transform="translate(168.38,296.00) scale(0.9884,1.0000)" font-size="14.1">30</text>
<text transform="translate(169.21,220.00) scale(1.0126,1.0000)" font-size="14.1">40</text>
<text transform="translate(168.37,142.00) scale(0.9970,1.0000)" font-size="14.1">50</text>
<text transform="translate(168.86,66.00) scale(1.0897,1.0000)" font-size="14.1">60</text>
</g>
<rect x="1376.5" y="74.5" width="80" height="640" rx="2.8" ry="2.8" fill="#ffffff" fill-opacity="0.8" stroke="#cccccc" stroke-opacity="0.8" stroke-width="1.389"/>
<g class="h">
<line x1="1381.2" y1="86.5" x2="1409.85" y2="86.5" stroke="#1f77b4"/>
<line x1="1381.2" y1="107.5" x2="1409.85" y2="107.5" stroke="#ff7f0e"/>
<line x1="1381.2" y1="127.5" x2="1409.85" y2="127.5" stroke="#2ca02c"/>
<line x1="1381.2" y1="148.5" x2="1409.85" y2="148.5" stroke="#d62728"/>
<line x1="1381.2" y1="169.5" x2="1409.85" y2="169.5" stroke="#9467bd"/>
<line x1="1381.2" y1="190.5" x2="1409.85" y2="190.5" stroke="#8c564b"/>
<line x1="1381.2" y1="211.5" x2="1409.85" y2="211.5" stroke="#e377c2"/>
<line x1="1381.2" y1="232.5" x2="1409.85" y2="232.5" stroke="#7f7f7f"/>
<line x1="1381.2" y1="253.5" x2="1409.85" y2="253.5" stroke="#bcbd22"/>
<line x1="1381.2" y1="274.5" x2="1409.85" y2="274.5" stroke="#17becf"/>
<line x1="1381.2" y1="295.5" x2="1409.85" y2="295.5" stroke="#1f77b4"/>
<line x1="1381.2" y1="316.5" x2="1409.85" y2="316.5" stroke="#ff7f0e"/>
<line x1="1381.2" y1="337.5" x2="1409.85" y2="337.5" stroke="#2ca02c"/>
<line x1="1381.2" y1="358.5" x2="1409.85" y2="358.5" stroke="#d62728"/>
<line x1="1381.2" y1="379.5" x2="1409.85" y2="379.5" stroke="#9467bd"/>
<line x1="1381.2" y1="400.5" x2="1409.85" y2="400.5" stroke="#8c564b"/>
<line x1="1381.2" y1="421.5" x2="1409.85" y2="421.5" stroke="#e377c2"/>
<line x1="1381.2" y1="442.5" x2="1409.85" y2="442.5" stroke="#7f7f7f"/>
<line x1="1381.2" y1="463.5" x2="1409.85" y2="463.5" stroke="#bcbd22"/>
<line x1="1381.2" y1="484.5" x2="1409.85" y2="484.5" stroke="#17becf"/>
</g>
<g>
<text transform="translate(1435.94,90.00) scale(1.1149,1.0000)" font-size="14.1">11.0</text>
<text transform="translate(1435.82,111.00) scale(1.0665,1.0000)" font-size="14.1">12.0</text>
<text transform="translate(1435.90,132.00) scale(1.0608,1.0000)" font-size="14.1">14.0</text>
<text transform="translate(1435.91,153.00) scale(1.0683,1.0000)" font-size="14.1">19.0</text>
<text transform="translate(1435.21,174.00) scale(1.0991,1.0000)" font-size="14.1">20.0</text>
<text transform="translate(1435.34,195.00) scale(1.1106,1.0000)" font-size="14.1">21.0</text>
<text transform="translate(1435.23,216.00) scale(1.0999,1.0000)" font-size="14.1">22.0</text>
<text transform="translate(1435.26,237.00) scale(1.1026,1.0000)" font-size="14.1">23.0</text>
<text transform="translate(1435.22,258.00) scale(1.1010,1.0000)" font-size="14.1">24.0</text>
<text transform="translate(1435.28,279.00) scale(1.1004,1.0000)" font-size="14.1">25.0</text>
<text transform="translate(1435.39,300.00) scale(1.1080,1.0000)" font-size="14.1">26.0</text>
<text transform="translate(1435.22,321.00) scale(1.1012,1.0000)" font-size="14.1">27.0</text>
<text transform="translate(1435.34,342.00) scale(1.1086,1.0000)" font-size="14.1">28.0</text>
<text transform="translate(1435.36,362.00) scale(1.1086,1.0000)" font-size="14.1">29.0</text>
<text transform="translate(1434.92,383.00) scale(1.0569,1.0000)" font-size="14.1">30.0</text>
<text transform="translate(1434.90,404.00) scale(1.0555,1.0000)" font-size="14.1">32.0</text>
<text transform="translate(1434.90,425.00) scale(1.0571,1.0000)" font-size="14.1">33.0</text>
<text transform="translate(1434.92,446.00) scale(1.0560,1.0000)" font-size="14.1">34.0</text>
<text transform="translate(1434.90,467.00) scale(1.0573,1.0000)" font-size="14.1">35.0</text>
<text transform="translate(1434.94,488.00) scale(1.0564,1.0000)" font-size="14.1">36.0</text>
<text transform="translate(1434.94,508.94) scale(1.0564,1.0000)" font-size="14.1">37.0</text>
</g>
</svg>
</body>
</html>
